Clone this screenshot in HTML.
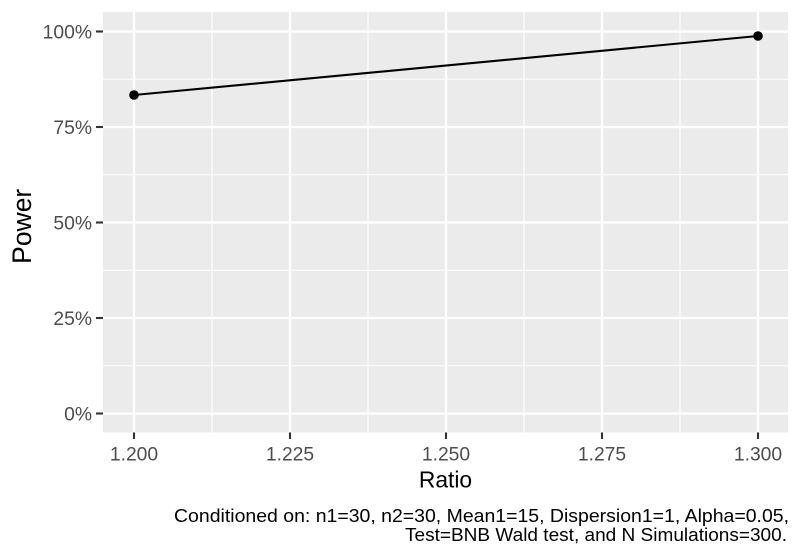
<!DOCTYPE html>
<html>
<head>
<meta charset="utf-8">
<style>
  html, body { margin: 0; padding: 0; background: #ffffff; }
  svg { display: block; }
  text { font-family: "Liberation Sans", "DejaVu Sans", sans-serif; }
</style>
</head>
<body>
<svg width="800" height="560" viewBox="0 0 800 560" xmlns="http://www.w3.org/2000/svg">
  <rect x="0" y="0" width="800" height="560" fill="#ffffff"/>
  <!-- panel -->
  <rect x="103" y="12" width="685" height="420.5" fill="#EBEBEB"/>
  <!-- minor gridlines -->
  <g stroke="#ffffff" stroke-width="1.1">
    <line x1="103" x2="788" y1="365.75" y2="365.75"/>
    <line x1="103" x2="788" y1="270.25" y2="270.25"/>
    <line x1="103" x2="788" y1="174.75" y2="174.75"/>
    <line x1="103" x2="788" y1="79.25" y2="79.25"/>
    <line x1="212" x2="212" y1="12" y2="432.5"/>
    <line x1="368" x2="368" y1="12" y2="432.5"/>
    <line x1="524" x2="524" y1="12" y2="432.5"/>
    <line x1="680" x2="680" y1="12" y2="432.5"/>
  </g>
  <!-- major gridlines -->
  <g stroke="#ffffff" stroke-width="2.2">
    <line x1="103" x2="788" y1="413.5" y2="413.5"/>
    <line x1="103" x2="788" y1="318" y2="318"/>
    <line x1="103" x2="788" y1="222.5" y2="222.5"/>
    <line x1="103" x2="788" y1="127" y2="127"/>
    <line x1="103" x2="788" y1="31.5" y2="31.5"/>
    <line x1="134" x2="134" y1="12" y2="432.5"/>
    <line x1="290" x2="290" y1="12" y2="432.5"/>
    <line x1="446" x2="446" y1="12" y2="432.5"/>
    <line x1="602" x2="602" y1="12" y2="432.5"/>
    <line x1="758" x2="758" y1="12" y2="432.5"/>
  </g>
  <!-- data -->
  <line x1="134" y1="95" x2="758" y2="36" stroke="#000000" stroke-width="2.1"/>
  <circle cx="134" cy="95" r="4.8" fill="#000000"/>
  <circle cx="758" cy="36" r="4.8" fill="#000000"/>
  <!-- y ticks -->
  <g stroke="#333333" stroke-width="2.1">
    <line x1="96" x2="103" y1="413.5" y2="413.5"/>
    <line x1="96" x2="103" y1="318" y2="318"/>
    <line x1="96" x2="103" y1="222.5" y2="222.5"/>
    <line x1="96" x2="103" y1="127" y2="127"/>
    <line x1="96" x2="103" y1="31.5" y2="31.5"/>
  </g>
  <!-- x ticks -->
  <g stroke="#333333" stroke-width="2.1">
    <line x1="134" x2="134" y1="432.5" y2="439"/>
    <line x1="290" x2="290" y1="432.5" y2="439"/>
    <line x1="446" x2="446" y1="432.5" y2="439"/>
    <line x1="602" x2="602" y1="432.5" y2="439"/>
    <line x1="758" x2="758" y1="432.5" y2="439"/>
  </g>
  <!-- y tick labels -->
  <g fill="#4D4D4D" font-size="19.3" text-anchor="end">
    <text x="92" y="420.3">0%</text>
    <text x="92" y="324.8">25%</text>
    <text x="92" y="229.3">50%</text>
    <text x="92" y="133.8">75%</text>
    <text x="92" y="38.3">100%</text>
  </g>
  <!-- x tick labels -->
  <g fill="#4D4D4D" font-size="19.3" text-anchor="middle">
    <text x="134" y="460.7">1.200</text>
    <text x="290" y="460.7">1.225</text>
    <text x="446" y="460.7">1.250</text>
    <text x="602" y="460.7">1.275</text>
    <text x="758" y="460.7">1.300</text>
  </g>
  <!-- axis titles -->
  <text x="445.5" y="487.7" font-size="22.8" text-anchor="middle" fill="#000000">Ratio</text>
  <text transform="translate(31,226.3) rotate(-90)" x="0" y="0" font-size="26.5" text-anchor="middle" fill="#000000">Power</text>
  <!-- caption -->
  <g fill="#000000" font-size="18" text-anchor="end">
    <text x="789" y="522" textLength="615" lengthAdjust="spacingAndGlyphs">Conditioned on: n1=30, n2=30, Mean1=15, Dispersion1=1, Alpha=0.05,</text>
    <text x="787" y="541" textLength="382" lengthAdjust="spacingAndGlyphs">Test=BNB Wald test, and N Simulations=300.</text>
  </g>
</svg>
</body>
</html>
